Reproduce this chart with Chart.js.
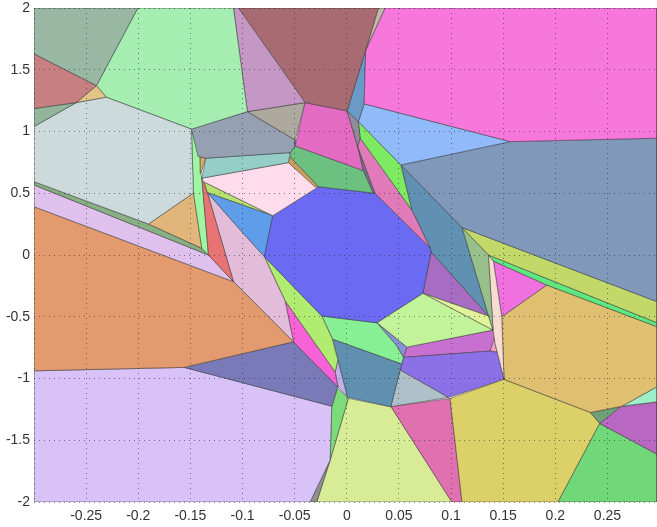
<!DOCTYPE html>
<html>
<head>
<meta charset="utf-8">
<title>Voronoi cells</title>
<script src="https://cdn.jsdelivr.net/npm/chart.js@4/dist/chart.umd.min.js"></script>
<style>
  html, body { margin: 0; padding: 0; background: #fff; overflow: hidden; }
  canvas { display: block; }
</style>
</head>
<body>
<canvas id="myChart" width="657" height="527"></canvas>
<script>
// axis ticks
var xTicks = [-0.3, -0.25, -0.2, -0.15, -0.1, -0.05, 0, 0.05, 0.1, 0.15, 0.2, 0.25];
var xTickLabels = ['', '-0.25', '-0.2', '-0.15', '-0.1', '-0.05', '0', '0.05', '0.1', '0.15', '0.2', '0.25'];
var yTicks = [-2, -1.5, -1, -0.5, 0, 0.5, 1, 1.5, 2];
var yTickLabels = ['-2', '-1.5', '-1', '-0.5', '0', '0.5', '1', '1.5', '2'];

// cell outlines as [x, y] in axis units
var cellVertices = [
  [[-0.3,2],[-0.2004,2],[-0.2401,1.372],[-0.3,1.629]],
  [[-0.3,1.629],[-0.2401,1.372],[-0.2595,1.234],[-0.3,1.186]],
  [[-0.3,1.186],[-0.2595,1.234],[-0.3,1.04]],
  [[-0.2401,1.372],[-0.2308,1.278],[-0.2595,1.234]],
  [[-0.3,1.04],[-0.2595,1.234],[-0.2308,1.278],[-0.149,1.019],[-0.1471,0.502],[-0.1902,0.251],[-0.3,0.594]],
  [[-0.2004,2],[-0.1087,2],[-0.0953,1.161],[-0.149,1.019],[-0.2308,1.278],[-0.2401,1.372]],
  [[-0.1087,2],[-0.1039,2],[-0.04,1.234],[-0.0953,1.161]],
  [[-0.1039,2],[0.0303,2],[0.0182,1.661],[0.0003,1.167],[-0.04,1.234]],
  [[0.0303,2],[0.0367,2],[0.0182,1.661]],
  [[0.0367,2],[0.2975,2],[0.2975,0.946],[0.1569,0.918],[0.0166,1.224],[0.0182,1.661]],
  [[0.0182,1.661],[0.0166,1.224],[0.0111,1.08],[0.0003,1.167]],
  [[0.0166,1.224],[0.1569,0.918],[0.0518,0.729],[0.0111,1.08]],
  [[0.0003,1.167],[0.0111,1.08],[0.0128,0.948],[0.0104,0.879],[0.0046,1.045]],
  [[0.0111,1.08],[0.0518,0.729],[0.0623,0.365],[0.0128,0.948]],
  [[0.0128,0.948],[0.0623,0.365],[0.0799,0.057],[0.0271,0.5],[0.0104,0.879]],
  [[0.0104,0.879],[0.0271,0.5],[0.0252,0.502],[0.0159,0.683]],
  [[-0.04,1.234],[0.0003,1.167],[0.0046,1.045],[0.0104,0.879],[0.0159,0.683],[-0.0496,0.883]],
  [[-0.0953,1.161],[-0.04,1.234],[-0.0496,0.932]],
  [[-0.149,1.019],[-0.0953,1.161],[-0.0496,0.932],[-0.0496,0.883],[-0.0544,0.829],[-0.1352,0.784],[-0.1426,0.798]],
  [[-0.1352,0.784],[-0.0544,0.829],[-0.056,0.748],[-0.139,0.622]],
  [[-0.1407,0.792],[-0.1352,0.784],[-0.14,0.662]],
  [[-0.0544,0.794],[-0.0272,0.553],[-0.0304,0.551],[-0.056,0.748]],
  [[-0.139,0.622],[-0.056,0.748],[-0.0278,0.549],[-0.071,0.318],[-0.1375,0.594]],
  [[-0.0496,0.883],[0.0159,0.683],[0.0271,0.5],[-0.0272,0.553],[-0.0544,0.794],[-0.0544,0.829]],
  [[-0.0272,0.553],[0.0271,0.5],[0.0799,0.057],[0.0808,0.024],[0.0729,-0.31],[0.0288,-0.549],[-0.024,-0.494],[-0.079,-0.014],[-0.071,0.318]],
  [[-0.1337,0.505],[-0.071,0.318],[-0.079,-0.014],[-0.1007,0.189]],
  [[-0.1368,0.589],[-0.071,0.318],[-0.1337,0.505]],
  [[-0.139,0.622],[-0.1368,0.589],[-0.1337,0.505],[-0.1087,-0.216],[-0.1327,0]],
  [[-0.149,1.019],[-0.1407,0.792],[-0.14,0.662],[-0.139,0.622],[-0.1327,0],[-0.139,0.054],[-0.1471,0.502]],
  [[-0.1902,0.251],[-0.1471,0.502],[-0.139,0.054]],
  [[-0.3,0.594],[-0.1902,0.251],[-0.139,0.054],[-0.1327,0],[-0.3,0.567]],
  [[-0.3,0.567],[-0.1327,0],[-0.1087,-0.216],[-0.3,0.391]],
  [[-0.3,0.391],[-0.1087,-0.216],[-0.0512,-0.703],[-0.156,-0.91],[-0.3,-0.938]],
  [[-0.1337,0.505],[-0.1007,0.189],[-0.079,-0.014],[-0.0687,-0.203],[-0.0592,-0.37],[-0.0512,-0.703],[-0.1087,-0.216]],
  [[-0.079,-0.014],[-0.024,-0.494],[-0.0141,-0.675],[-0.0086,-0.851],[-0.0112,-0.946],[-0.0592,-0.37]],
  [[-0.0592,-0.37],[-0.0112,-0.946],[-0.0086,-1.067],[-0.0512,-0.703]],
  [[-0.156,-0.91],[-0.0512,-0.703],[-0.0086,-1.067],[-0.0144,-1.224]],
  [[-0.3,-0.938],[-0.156,-0.91],[-0.0144,-1.224],[-0.016,-1.661],[-0.0352,-2],[-0.3,-2]],
  [[-0.016,-1.661],[-0.0352,-2],[-0.0288,-2]],
  [[-0.0144,-1.224],[-0.009,-1.08],[0.0015,-1.161],[-0.016,-1.661]],
  [[-0.0086,-0.851],[0.0006,-1.151],[-0.0083,-1.07],[-0.0112,-0.946]],
  [[-0.0134,-0.683],[0.0526,-0.883],[0.0422,-1.229],[0.0006,-1.151]],
  [[-0.024,-0.494],[0.0288,-0.549],[0.0473,-0.729],[0.0543,-0.829],[0.0526,-0.883],[-0.0134,-0.683]],
  [[0.0288,-0.549],[0.0575,-0.746],[0.0543,-0.829],[0.0473,-0.729]],
  [[0.0288,-0.549],[0.0729,-0.31],[0.14,-0.608],[0.0575,-0.746]],
  [[0.0729,-0.31],[0.1358,-0.494],[0.14,-0.608]],
  [[0.0808,0.024],[0.1358,-0.494],[0.0729,-0.31]],
  [[0.0518,0.729],[0.1103,0.223],[0.1358,-0.494],[0.0808,0.024],[0.0799,0.057],[0.0623,0.365]],
  [[0.0518,0.729],[0.1569,0.918],[0.2975,0.946],[0.2975,-0.378],[0.1103,0.223]],
  [[0.1103,0.223],[0.1358,0],[0.1403,-0.608],[0.1358,-0.494]],
  [[0.1103,0.223],[0.2975,-0.378],[0.2975,-0.549],[0.1358,0]],
  [[0.1358,0],[0.2975,-0.549],[0.2975,-0.581],[0.1918,-0.243],[0.1406,-0.049]],
  [[0.1358,0],[0.1406,-0.049],[0.1486,-0.5],[0.1508,-1.007],[0.1422,-0.716],[0.1403,-0.608]],
  [[0.1406,-0.049],[0.1918,-0.243],[0.1486,-0.5]],
  [[0.1486,-0.5],[0.1918,-0.243],[0.2975,-0.581],[0.2975,-1.067],[0.264,-1.224],[0.2336,-1.275],[0.1508,-1.007]],
  [[0.264,-1.224],[0.2975,-1.067],[0.2975,-1.189]],
  [[0.2336,-1.275],[0.2623,-1.229],[0.2426,-1.364]],
  [[0.2623,-1.229],[0.2975,-1.189],[0.2975,-1.613],[0.2426,-1.364]],
  [[0.2426,-1.364],[0.2975,-1.613],[0.2975,-2],[0.2026,-2]],
  [[0.1508,-1.007],[0.2336,-1.275],[0.2426,-1.364],[0.2026,-2],[0.1105,-2],[0.099,-1.161]],
  [[0.0425,-1.229],[0.099,-1.161],[0.1105,-2],[0.1007,-2]],
  [[0.0015,-1.161],[0.0425,-1.229],[0.1007,-2],[-0.0288,-2],[-0.016,-1.661]],
  [[0.0511,-0.932],[0.0974,-1.153],[0.0422,-1.229]],
  [[0.0543,-0.829],[0.1374,-0.778],[0.1441,-0.788],[0.1508,-1.007],[0.0974,-1.153],[0.0511,-0.932]],
  [[0.0575,-0.746],[0.14,-0.608],[0.1422,-0.656],[0.1374,-0.778],[0.0543,-0.829]],
  [[0.14,-0.608],[0.1374,-0.778],[0.1441,-0.788]]
];

var cellColors = [
  '#98b8a4', '#c77f82', '#92b59c', '#e2c687', '#cddadb', '#a5edb0', '#c497c4', '#a86b72',
  '#c4b8a6', '#f877dc', '#6a9bc6', '#90bafa', '#8f8a9c', '#7ceb62', '#e07ab8', '#7a6f8a',
  '#e46bc2', '#aea99f', '#95a0b2', '#94cec6', '#d8a860', '#c9a060', '#ffdcec', '#6cc080',
  '#6a6af2', '#5f9dea', '#b8e26e', '#e87374', '#9ef6a2', '#e2b67a', '#88b084', '#e0c0ec',
  '#e39a6e', '#e2bcd8', '#b0ec70', '#f862d8', '#7a7ab8', '#d8c2f8', '#909090', '#7cdc7a',
  '#c2b0e8', '#6090b0', '#88f094', '#8890d8', '#c2f29a', '#e2f29a', '#a86cc2', '#6090b2',
  '#8099ba', '#98c08a', '#c2d868', '#60e880', '#f8dcd0', '#f070e0', '#dec070', '#9cefc8',
  '#70a078', '#b868c0', '#70d878', '#dcd068', '#e070b0', '#d8ec98', '#b0c0c8', '#8c70e8',
  '#c870d0', '#f0a0c0'
];

var datasets = cellVertices.map(function(verts, i) {
  var pts = verts.map(function(v) { return {x: v[0], y: v[1]}; });
  pts.push(pts[0]); // close the outline
  return {
    data: pts,
    showLine: true,
    fill: 'shape',
    backgroundColor: cellColors[i],
    borderColor: 'rgba(50,50,50,0.5)',
    borderWidth: 1,
    pointRadius: 0,
    tension: 0
  };
});

var dotted = {display: false, dash: [1, 4]};
var gridStyle = {color: 'rgba(35,35,45,0.55)', lineWidth: 1, drawTicks: false, z: 1};
var tickFont = {family: '"Liberation Sans", Arial, sans-serif', size: 14};

new Chart('myChart', {
  type: 'scatter',
  data: {datasets: datasets},
  options: {
    responsive: false,
    animation: false,
    layout: {padding: {top: 8, right: 0, left: 0, bottom: 0}},
    plugins: {legend: {display: false}, tooltip: {enabled: false}},
    scales: {
      x: {
        type: 'linear',
        min: -0.3,
        max: 0.2975,
        border: dotted,
        grid: gridStyle,
        afterBuildTicks: function(scale) {
          scale.ticks = xTicks.map(function(v) { return {value: v}; });
        },
        afterFit: function(scale) { scale.height = 25; },
        ticks: {
          autoSkip: false,
          maxRotation: 0,
          padding: 6,
          color: '#333',
          font: tickFont,
          callback: function(v, i) { return xTickLabels[i]; }
        }
      },
      y: {
        type: 'linear',
        min: -2,
        max: 2,
        border: dotted,
        grid: gridStyle,
        afterBuildTicks: function(scale) {
          scale.ticks = yTicks.map(function(v) { return {value: v}; });
        },
        afterFit: function(scale) {
          scale.width = 34;
          // labels would otherwise push the plot down
          scale.paddingTop = 0;
          scale.paddingBottom = 0;
        },
        ticks: {
          autoSkip: false,
          padding: 4,
          color: '#333',
          font: tickFont,
          callback: function(v, i) { return yTickLabels[i]; }
        }
      }
    }
  }
});
</script>
</body>
</html>
